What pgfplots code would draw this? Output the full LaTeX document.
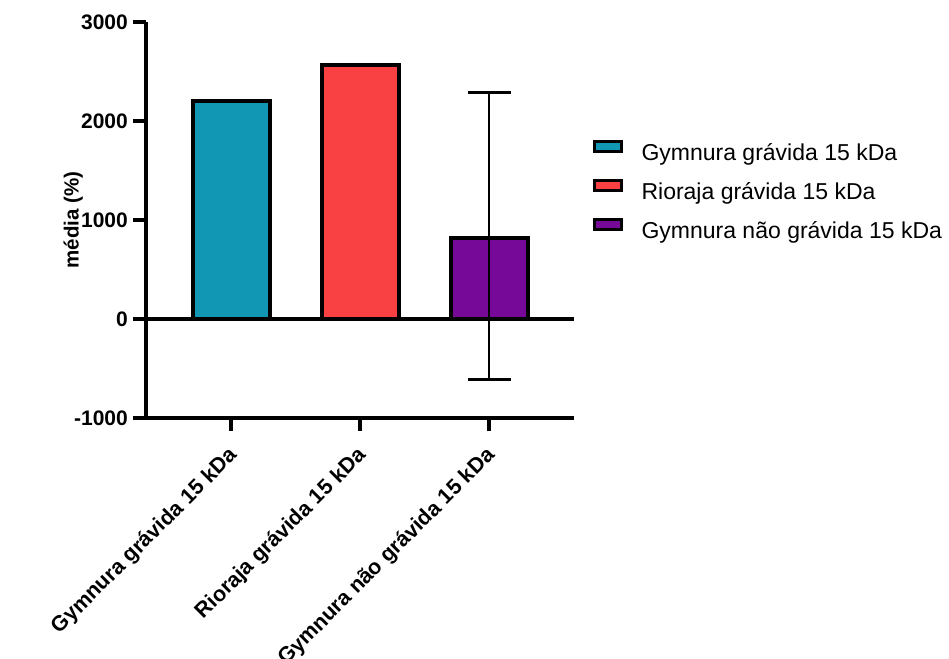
\documentclass[border=0pt]{standalone}
\usepackage{fontspec}
\setmainfont{Liberation Sans}
\usepackage{pgfplots}
\pgfplotsset{compat=1.18}
\definecolor{cteal}{RGB}{17,151,179}
\definecolor{cred}{RGB}{249,65,68}
\definecolor{cpurple}{RGB}{118,9,152}
\begin{document}
\begin{tikzpicture}
\path[use as bounding box] (-146pt,-240pt) rectangle (803pt,418pt);
\begin{axis}[
  at={(0pt,0pt)}, anchor=south west,
  scale only axis, width=428pt, height=396pt,
  xmin=-0.663, xmax=2.659, ymin=-1000, ymax=3000,
  axis lines*=left, axis line style={line width=4pt,-},
  xtick={0,1,2}, ytick={-1000,0,1000,2000,3000},
  xticklabels={Gymnura grávida 15 kDa, Rioraja grávida 15 kDa, Gymnura não grávida 15 kDa},
  tick align=outside, major tick length=13pt,
  tick style={line width=4pt, black},
  xtick pos=left, ytick pos=left,
  /pgf/number format/assume math mode=true,
  /pgf/number format/1000 sep={},
  ticklabel style={font=\fontsize{21}{24}\selectfont\bfseries},
  yticklabel style={inner sep=0pt, xshift=-5pt},
  xticklabel style={font=\fontsize{21.5}{24}\selectfont\bfseries, rotate=45, anchor=east, inner sep=0pt, yshift=-17pt, xshift=-13pt},
  ylabel={média (\%)},
  ylabel style={font=\fontsize{20.5}{24}\selectfont\bfseries, at={(axis description cs:-0.170,0.5)}, anchor=center},
  ybar, bar shift=0pt, bar width=77pt,
  every axis plot/.append style={draw=black, line width=4pt},
  legend style={draw=none, fill=none, inner sep=0pt, outer sep=0pt,
    at={(rel axis cs:1.044,0.701)}, anchor=north west,
    font=\fontsize{23}{23}\selectfont, row sep=13.5pt, column sep=18.7pt,
    nodes={inner sep=0pt, text height=17pt, text depth=5pt}},
  legend cell align=left,
  legend image code/.code={\draw[#1, line width=3pt] (1.5pt,3pt) rectangle (28.5pt,13pt);},
  clip=false,
]
\addplot[fill=cteal] coordinates {(0,2207)};
\addlegendentry{Gymnura grávida 15 kDa}
\addplot[fill=cred] coordinates {(1,2565)};
\addlegendentry{Rioraja grávida 15 kDa}
\addplot[fill=cpurple,
  error bars/.cd, y dir=both, y explicit,
  error bar style={line width=2pt, black},
  error mark options={line width=2.5pt, mark size=21.5pt, black, rotate=90}]
  coordinates {(2,815) += (0,1475) -= (0,1428)};
\addlegendentry{Gymnura não grávida 15 kDa}
\draw[line width=4pt, black] (axis cs:-0.663,0) -- (axis cs:2.659,0);
\end{axis}
\end{tikzpicture}
\end{document}
